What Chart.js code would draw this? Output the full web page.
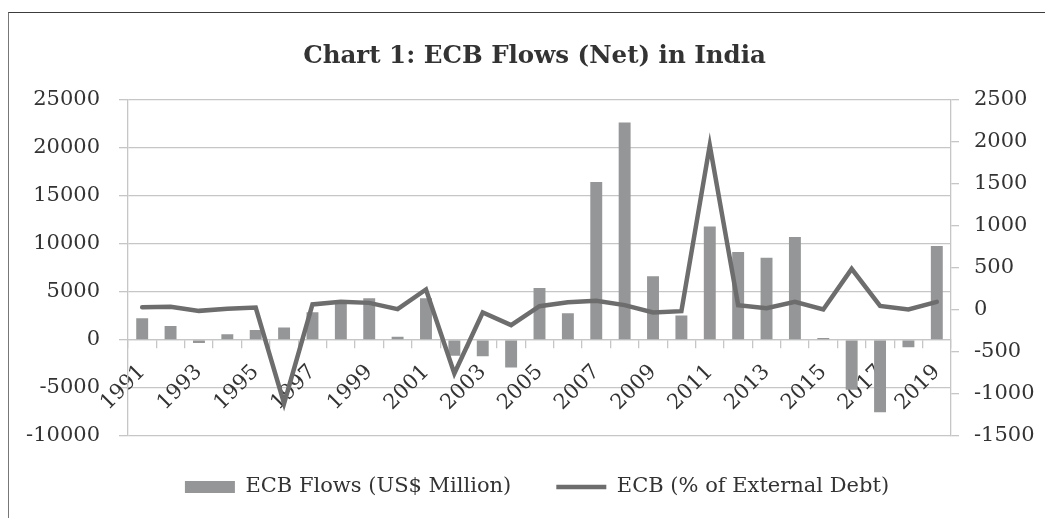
<!DOCTYPE html>
<html>
<head>
<meta charset="utf-8">
<script src="https://cdn.jsdelivr.net/npm/chart.js@4"></script>
<style>
html,body{margin:0;padding:0;background:#fff;overflow:hidden;}
#wrap{position:relative;width:1045px;height:518px;}
#frame{position:absolute;left:8px;top:12px;width:1100px;height:600px;border-top:1.5px solid #3c3c3c;border-left:1.5px solid #777;pointer-events:none;}
canvas{position:absolute;left:0;top:0;}
</style>
</head>
<body>
<div id="wrap">
<canvas id="c" width="1045" height="518"></canvas>
<div id="frame"></div>
</div>
<script>
const years = ['1991','1992','1993','1994','1995','1996','1997','1998','1999','2000','2001','2002','2003','2004','2005','2006','2007','2008','2009','2010','2011','2012','2013','2014','2015','2016','2017','2018','2019'];
const ecbFlows = [2250,1450,-340,590,1030,1280,2870,4000,4320,310,4320,-1650,-1700,-2870,5390,2760,16420,22610,6600,2520,11790,9130,8540,10680,200,-5200,-7540,-760,9750];
const ecbPctDebt = [31,35,-13,11,27,-1113,63,94,82,7,241,-757,-32,-183,43,90,106,55,-32,-17,1955,55,19,94,4,486,46,4,94];
const leftTicks = [-10000,-5000,0,5000,10000,15000,20000,25000];
const rightTicks = [-1500,-1000,-500,0,500,1000,1500,2000,2500];

const FONT = 'DejaVu Serif';
const gridColor = '#c6c6c6';
const textColor = '#333333';

const LEGEND_ITEM_CENTER = 487;
const LEGEND_PAD = 45;

const shiftPlugin = {
  id: 'shift',
  beforeLayout(chart) {
    const lg = chart.legend;
    if (lg && !lg._patchedFit) {
      const f = lg.fit;
      lg.fit = function() { f.call(this); this.height = 82; };
      lg._patchedFit = true;
    }
  },
  afterLayout(chart) {
    if (chart.titleBlock) { chart.titleBlock.left += 24; }
    const lg = chart.legend;
    if (lg) {
      lg.left += 29;
      const h = lg.height;
      lg.top = LEGEND_ITEM_CENTER - 10.5 - LEGEND_PAD;
      lg.bottom = lg.top + h;
    }
  }
};

new Chart(document.getElementById('c'), {
  type: 'bar',
  data: {
    labels: years,
    datasets: [
      {
        type: 'line',
        label: 'ECB (% of External Debt)',
        data: ecbPctDebt,
        yAxisID: 'y1',
        borderColor: '#6d6d6e',
        backgroundColor: '#6d6d6e',
        borderWidth: 4.5,
        pointRadius: 0,
        pointHoverRadius: 0,
        tension: 0,
        borderCapStyle: 'round',
        pointStyle: 'line',
        order: 0
      },
      {
        type: 'bar',
        label: 'ECB Flows (US$ Million)',
        data: ecbFlows,
        yAxisID: 'y',
        backgroundColor: '#949697',
        borderWidth: 0,
        categoryPercentage: 1.0,
        barPercentage: 0.42,
        pointStyle: 'rect',
        order: 1
      }
    ]
  },
  plugins: [shiftPlugin],
  options: {
    responsive: false,
    animation: false,
    layout: { padding: { left: 0, right: 0, top: 0, bottom: 0 } },
    plugins: {
      title: {
        display: true,
        text: 'Chart 1: ECB Flows (Net) in India',
        color: textColor,
        font: { family: FONT, size: 24.5, weight: 'bold', lineHeight: 1.2 },
        padding: { top: 42, bottom: 28 }
      },
      legend: {
        display: true,
        position: 'bottom',
        reverse: true,
        labels: {
          usePointStyle: true,
          pointStyleWidth: 50,
          boxHeight: 12,
          padding: LEGEND_PAD,
          color: textColor,
          font: { family: FONT, size: 21 }
        }
      },
      tooltip: { enabled: false }
    },
    scales: {
      x: {
        axis: 'x',
        position: { y: 0 },
        offset: true,
        grid: { display: true, drawOnChartArea: false, drawTicks: true, tickLength: 8, offset: true, color: gridColor, lineWidth: 1.3 },
        border: { display: true, color: gridColor, width: 1.3 },
        ticks: {
          autoSkip: false,
          minRotation: 45,
          maxRotation: 45,
          padding: 12,
          color: textColor,
          font: { family: FONT, size: 21 },
          callback: function(v, i) { return i % 2 === 0 ? years[i] : ''; }
        }
      },
      y: {
        position: 'left',
        min: leftTicks[0],
        max: leftTicks[leftTicks.length - 1],
        afterBuildTicks: s => { s.ticks = leftTicks.map(v => ({ value: v })); },
        afterFit: s => { s.width = 128; },
        grid: { color: gridColor, lineWidth: 1.3, tickLength: 9, drawTicks: true },
        border: { display: true, color: gridColor, width: 1.3 },
        ticks: { padding: 19, color: textColor, font: { family: FONT, size: 21 }, callback: v => String(v) }
      },
      y1: {
        position: 'right',
        min: rightTicks[0],
        max: rightTicks[rightTicks.length - 1],
        afterBuildTicks: s => { s.ticks = rightTicks.map(v => ({ value: v })); },
        afterFit: s => { s.width = 94; },
        grid: { drawOnChartArea: false, color: gridColor, lineWidth: 1.3, tickLength: 8, drawTicks: true },
        border: { display: true, color: gridColor, width: 1.3 },
        ticks: { padding: 15, color: textColor, font: { family: FONT, size: 21 }, callback: v => String(v) }
      }
    }
  }
});
</script>
</body>
</html>
